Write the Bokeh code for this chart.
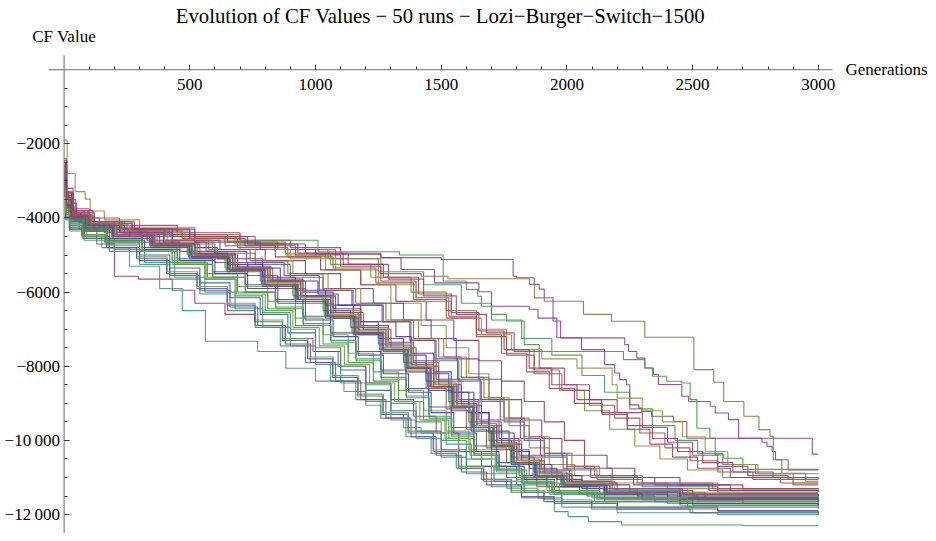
import colorsys
from bokeh.plotting import figure
from bokeh.models import Range1d, FixedTicker, Label
from bokeh.embed import file_html
from bokeh.resources import INLINE

title_text = "Evolution of CF Values \u2212 50 runs \u2212 Lozi\u2212Burger\u2212Switch\u22121500"
x_title = "Generations"
y_title = "CF Value"
x_ticks = [500, 1000, 1500, 2000, 2500, 3000]
x_tick_labels = ["500", "1000", "1500", "2000", "2500", "3000"]
y_ticks = [-12000, -10000, -8000, -6000, -4000, -2000]
y_tick_labels = ["\u221212\u2009000", "\u221210\u2009000", "\u22128000", "\u22126000", "\u22124000", "\u22122000"]

# each run: (generation at which the value starts, CF value)
run01 = [(1,-2850),(6,-3500),(22,-3900),(70,-4150),(180,-4380),(330,-4600),(520,-4800),(610,-5100),(790,-5350),(860,-5700),(1010,-6050),(1090,-6350),(1180,-6800),(1320,-7200),(1380,-7650),(1470,-8150),(1540,-8700),(1630,-9250),(1690,-9800),(1790,-10300),(1850,-10750),(1960,-11050),(2060,-11300),(2280,-11500),(2520,-11600),(3000,-11600)]
run02 = [(1,-2500),(5,-3300),(18,-3900),(60,-4300),(130,-4700),(200,-5570),(295,-5650),(430,-5950),(520,-6300),(640,-6600),(760,-6900),(880,-7250),(990,-7600),(1090,-8000),(1200,-8450),(1300,-8900),(1390,-9350),(1480,-9800),(1570,-10300),(1660,-10700),(1760,-11000),(1880,-11250),(2050,-11450),(2300,-11600),(2700,-11700),(3000,-11700)]
run03 = [(1,-1900),(12,-2800),(44,-3290),(84,-3490),(104,-3810),(160,-4050),(300,-4250),(520,-4450),(700,-4700),(880,-5000),(1040,-5400),(1180,-5800),(1300,-6300),(1420,-6900),(1520,-7500),(1610,-8200),(1690,-8900),(1770,-9600),(1850,-10200),(1930,-10650),(2030,-10950),(2180,-11150),(2400,-11300),(3000,-11300)]
run04 = [(1,-3100),(8,-3700),(30,-4000),(90,-4200),(220,-4350),(420,-4500),(650,-4650),(850,-4850),(1050,-5100),(1250,-5450),(1430,-5800),(1580,-6300),(1700,-6750),(1820,-7250),(1940,-7700),(2060,-8250),(2150,-8700),(2250,-9150),(2340,-9600),(2430,-10000),(2520,-10350),(2620,-10650),(2750,-10900),(3000,-10900)]
run05 = [(1,-3300),(7,-3900),(25,-4200),(80,-4450),(170,-4700),(300,-5000),(420,-5350),(540,-5750),(660,-6150),(780,-6600),(890,-7100),(1000,-7600),(1100,-8100),(1200,-8650),(1300,-9200),(1400,-9750),(1500,-10250),(1600,-10700),(1710,-11100),(1830,-11400),(1980,-11650),(2200,-11800),(2600,-11900),(3000,-11900)]
run06 = [(1,-2400),(9,-3200),(35,-3750),(100,-4000),(220,-4200),(450,-4400),(700,-4600),(900,-4800),(1100,-4950),(1260,-5070),(1500,-5120),(1786,-5570),(1800,-5610),(1870,-5790),(1890,-5920),(1910,-6150),(1945,-6780),(1975,-7235),(2230,-7415),(2245,-7600),(2278,-7780),(2310,-8045),(2344,-8220),(2364,-8490),(2457,-8810),(2484,-8950),(2570,-9080),(2590,-9260),(2643,-9440),(2683,-9940),(2776,-10050),(2796,-10160),(2816,-10300),(2830,-10520),(2880,-10800),(3000,-10800)]
run07 = [(1,-2600),(8,-3300),(30,-3800),(80,-4100),(200,-4300),(400,-4450),(650,-4650),(880,-4850),(1080,-5100),(1260,-5500),(1420,-5570),(1527,-5640),(1851,-5790),(1871,-6155),(1910,-6244),(2066,-6600),(2178,-6785),(2310,-7217),(2505,-8090),(2584,-8430),(2624,-8950),(2704,-9350),(2764,-9710),(2808,-9890),(2821,-10520),(2855,-10885),(2950,-11100),(3000,-11100)]
run08 = [(1,-2700),(12,-3500),(45,-3950),(120,-4200),(260,-4400),(520,-4550),(700,-4600),(1010,-4910),(1334,-5000),(1508,-5700),(1600,-5930),(1645,-6110),(1660,-6380),(1700,-6600),(1760,-6780),(1830,-7415),(1890,-7600),(2225,-7820),(2310,-8045),(2340,-8270),(2397,-8405),(2457,-8450),(2490,-8900),(2517,-9670),(2569,-9940),(2590,-10390),(2624,-10480),(2700,-10780),(3000,-10780)]
run09 = [(1,-2950),(10,-3700),(40,-4050),(120,-4300),(260,-4500),(430,-4700),(600,-4950),(760,-5250),(900,-5600),(1030,-5950),(1150,-6350),(1270,-6800),(1380,-7300),(1480,-7850),(1570,-8400),(1660,-8950),(1750,-9500),(1830,-10000),(1910,-10450),(2000,-10800),(2120,-11050),(2300,-11250),(2600,-11400),(3000,-11400)]
run10 = [(1,-3000),(10,-3600),(50,-4000),(140,-4250),(300,-4450),(520,-4650),(780,-4850),(1000,-4980),(1260,-5070),(1340,-5390),(1473,-5750),(1650,-5990),(1700,-6380),(1850,-6460),(1885,-6700),(1960,-7230),(2058,-7550),(2150,-7955),(2190,-8180),(2210,-8360),(2237,-8500),(2250,-9040),(2286,-9130),(2298,-9220),(2337,-9350),(2424,-9490),(2477,-9940),(2976,-10370),(3000,-10370)]
run11 = [(1,-2700),(5,-3400),(20,-3850),(65,-4150),(160,-4400),(310,-4650),(460,-4900),(600,-5200),(730,-5550),(850,-5900),(960,-6300),(1070,-6700),(1170,-7150),(1270,-7600),(1360,-8100),(1440,-8600),(1520,-9150),(1600,-9700),(1680,-10200),(1760,-10600),(1850,-10950),(1960,-11250),(2130,-11450),(2400,-11600),(3000,-11650)]
run12 = [(1,-2600),(10,-3400),(35,-3850),(100,-4100),(240,-4300),(450,-4500),(680,-4700),(880,-4950),(1060,-5250),(1220,-5600),(1380,-6000),(1520,-6500),(1640,-7000),(1760,-7550),(1870,-8100),(1970,-8650),(2070,-9200),(2170,-9700),(2270,-10150),(2370,-10500),(2480,-10800),(2620,-11000),(3000,-11050)]
run13 = [(1,-3400),(6,-4000),(25,-4300),(90,-4550),(200,-4850),(320,-5200),(440,-5600),(560,-6000),(680,-6450),(790,-6950),(900,-7450),(1000,-7950),(1100,-8450),(1200,-8950),(1300,-9450),(1400,-9950),(1500,-10450),(1600,-10900),(1700,-11250),(1820,-11550),(1980,-11800),(2200,-11950),(2600,-12000),(3000,-12000)]
run14 = [(1,-3050),(8,-3650),(28,-4000),(85,-4250),(200,-4450),(360,-4700),(520,-4950),(680,-5300),(820,-5650),(950,-6000),(1070,-6450),(1180,-6900),(1290,-7350),(1390,-7850),(1480,-8350),(1570,-8900),(1650,-9450),(1730,-9950),(1810,-10400),(1900,-10800),(2010,-11100),(2180,-11300),(2450,-11450),(3000,-11500)]
run15 = [(1,-2500),(7,-3300),(30,-3800),(95,-4100),(230,-4300),(430,-4500),(640,-4750),(840,-5050),(1020,-5400),(1180,-5800),(1320,-6250),(1440,-6750),(1550,-7300),(1650,-7850),(1740,-8400),(1830,-8950),(1910,-9500),(1990,-10000),(2070,-10400),(2160,-10750),(2270,-11000),(2450,-11200),(2700,-11300),(3000,-11300)]
run16 = [(1,-3200),(6,-3800),(24,-4150),(75,-4350),(170,-4600),(300,-4850),(430,-5150),(560,-5500),(690,-5850),(810,-6250),(920,-6700),(1030,-7150),(1130,-7650),(1230,-8150),(1330,-8650),(1430,-9200),(1520,-9750),(1610,-10250),(1700,-10700),(1800,-11050),(1920,-11350),(2100,-11550),(2400,-11700),(3000,-11750)]
run17 = [(1,-3300),(6,-3900),(20,-4250),(70,-4500),(150,-4800),(260,-5300),(380,-5900),(470,-6500),(562,-7325),(770,-7600),(882,-8055),(1000,-8400),(1113,-8680),(1200,-9050),(1260,-9300),(1350,-9650),(1420,-9800),(1520,-10100),(1620,-10500),(1720,-10850),(1820,-11150),(1950,-11450),(2150,-11650),(2500,-11750),(3000,-11800)]
run18 = [(1,-2750),(7,-3500),(26,-3950),(80,-4200),(190,-4450),(350,-4700),(500,-4950),(650,-5250),(790,-5600),(920,-5950),(1040,-6350),(1150,-6800),(1250,-7250),(1350,-7700),(1440,-8200),(1530,-8700),(1610,-9250),(1690,-9750),(1770,-10250),(1850,-10650),(1940,-10950),(2060,-11200),(2250,-11400),(2550,-11550),(3000,-11550)]
run19 = [(1,-2650),(9,-3450),(32,-3900),(110,-4150),(270,-4350),(500,-4550),(720,-4750),(920,-5000),(1100,-5300),(1260,-5700),(1400,-6150),(1530,-6650),(1640,-7150),(1740,-7650),(1840,-8150),(1930,-8600),(2030,-9000),(2140,-9300),(2240,-9700),(2330,-10100),(2420,-10450),(2520,-10750),(2650,-11000),(2850,-11150),(3000,-11150)]
run20 = [(1,-2900),(8,-3600),(35,-3950),(110,-4200),(260,-4400),(480,-4600),(700,-4850),(900,-5100),(1080,-5400),(1250,-5800),(1400,-6250),(1540,-6700),(1660,-7150),(1780,-7550),(1900,-7800),(2040,-8050),(2180,-8500),(2200,-8860),(2300,-9200),(2380,-9500),(2460,-9900),(2550,-10300),(2640,-10650),(2760,-10900),(2900,-11150),(3000,-11150)]
run21 = [(1,-3500),(6,-4050),(22,-4350),(80,-4600),(180,-4900),(300,-5250),(420,-5650),(540,-6050),(650,-6500),(760,-6950),(860,-7450),(960,-7900),(1060,-8400),(1160,-8900),(1260,-9400),(1360,-9900),(1460,-10350),(1560,-10750),(1660,-11050),(1760,-11290),(1885,-11560),(1950,-11920),(2005,-12055),(2085,-12190),(2218,-12280),(2700,-12300),(3000,-12300)]
run22 = [(1,-3150),(7,-3750),(25,-4100),(75,-4350),(170,-4550),(310,-4800),(450,-5100),(590,-5450),(720,-5800),(840,-6200),(950,-6650),(1060,-7100),(1160,-7600),(1260,-8100),(1360,-8600),(1450,-9100),(1540,-9650),(1630,-10150),(1720,-10600),(1810,-10950),(1920,-11250),(2080,-11500),(2350,-11650),(3000,-11700)]
run23 = [(1,-2550),(10,-3350),(38,-3850),(120,-4100),(280,-4300),(520,-4500),(760,-4700),(960,-4950),(1130,-5250),(1290,-5650),(1430,-6100),(1560,-6600),(1680,-7100),(1790,-7600),(1890,-8050),(1990,-8500),(2090,-8900),(2200,-9250),(2300,-9650),(2400,-10050),(2500,-10400),(2600,-10700),(2720,-10950),(2880,-11050),(3000,-11050)]
run24 = [(1,-2800),(9,-3550),(30,-3950),(95,-4200),(210,-4450),(370,-4700),(530,-5000),(680,-5350),(820,-5700),(950,-6100),(1070,-6500),(1180,-6950),(1290,-7400),(1390,-7900),(1490,-8400),(1580,-8950),(1660,-9500),(1740,-10000),(1820,-10450),(1910,-10800),(2020,-11100),(2190,-11300),(2450,-11450),(3000,-11450)]
run25 = [(1,-3250),(6,-3850),(22,-4200),(70,-4450),(160,-4650),(300,-4900),(440,-5200),(570,-5600),(690,-6000),(810,-6450),(920,-6900),(1030,-7400),(1130,-7900),(1230,-8400),(1330,-8950),(1430,-9450),(1530,-9950),(1630,-10400),(1730,-10800),(1840,-11150),(1970,-11400),(2150,-11600),(2500,-11750),(3000,-11750)]
run26 = [(1,-2950),(8,-3650),(27,-4000),(85,-4250),(190,-4500),(340,-4750),(490,-5000),(640,-5350),(780,-5700),(910,-6100),(1030,-6500),(1140,-6950),(1250,-7400),(1350,-7900),(1440,-8400),(1530,-8950),(1610,-9500),(1690,-10000),(1780,-10450),(1870,-10850),(1980,-11150),(2150,-11350),(2400,-11500),(3000,-11550)]
run27 = [(1,-3350),(6,-3950),(24,-4250),(80,-4500),(180,-4800),(300,-5150),(420,-5550),(540,-5950),(660,-6400),(770,-6900),(880,-7400),(980,-7900),(1080,-8400),(1180,-8900),(1280,-9400),(1380,-9900),(1480,-10400),(1580,-10850),(1680,-11200),(1819,-11515),(1950,-11700),(2200,-11850),(2600,-11900),(3000,-11950)]
run28 = [(1,-2700),(9,-3450),(33,-3900),(105,-4150),(250,-4350),(470,-4550),(690,-4800),(890,-5050),(1070,-5350),(1240,-5750),(1390,-6200),(1520,-6700),(1640,-7200),(1760,-7700),(1870,-8200),(1980,-8650),(2090,-9050),(2190,-9400),(2290,-9800),(2390,-10200),(2490,-10550),(2600,-10850),(2740,-11050),(2900,-11200),(3000,-11200)]
run29 = [(1,-3000),(7,-3700),(26,-4050),(85,-4300),(200,-4500),(360,-4750),(520,-5050),(670,-5400),(810,-5800),(940,-6200),(1060,-6650),(1170,-7100),(1280,-7550),(1380,-8050),(1470,-8550),(1560,-9100),(1640,-9650),(1720,-10150),(1800,-10600),(1890,-10950),(2000,-11200),(2170,-11400),(2450,-11550),(3000,-11600)]
run30 = [(1,-3100),(7,-3750),(24,-4100),(75,-4350),(170,-4600),(310,-4900),(450,-5250),(590,-5600),(720,-6000),(840,-6400),(950,-6850),(1060,-7300),(1160,-7800),(1260,-8300),(1360,-8800),(1450,-9350),(1540,-9850),(1630,-10350),(1720,-10750),(1820,-11100),(1940,-11400),(2120,-11600),(2450,-11750),(3000,-11800)]
run31 = [(1,-2800),(9,-3550),(32,-3950),(100,-4200),(240,-4400),(430,-4600),(620,-4850),(800,-5150),(960,-5500),(1100,-5900),(1230,-6300),(1350,-6750),(1460,-7250),(1560,-7800),(1650,-8350),(1740,-8900),(1820,-9450),(1900,-9950),(1980,-10400),(2070,-10750),(2180,-11000),(2350,-11200),(2650,-11350),(3000,-11350)]
run32 = [(1,-2600),(8,-3400),(28,-3900),(90,-4200),(210,-4450),(380,-4700),(540,-5000),(690,-5350),(830,-5700),(960,-6100),(1080,-6550),(1190,-7000),(1300,-7500),(1400,-8000),(1490,-8500),(1580,-9050),(1660,-9600),(1740,-10100),(1820,-10550),(1910,-10900),(2020,-11150),(2200,-11350),(2500,-11500),(3000,-11500)]
run33 = [(1,-3300),(6,-3900),(23,-4250),(75,-4500),(170,-4750),(290,-5050),(410,-5450),(530,-5850),(650,-6300),(760,-6750),(870,-7250),(970,-7750),(1070,-8250),(1170,-8750),(1270,-9250),(1370,-9750),(1470,-10250),(1570,-10700),(1670,-11050),(1780,-11350),(1910,-11600),(2100,-11800),(2500,-11950),(3000,-12000)]
run34 = [(1,-2900),(8,-3600),(27,-4000),(85,-4250),(195,-4500),(350,-4750),(510,-5050),(660,-5400),(800,-5750),(930,-6150),(1050,-6600),(1160,-7050),(1270,-7500),(1370,-8000),(1460,-8500),(1550,-9050),(1630,-9600),(1710,-10100),(1790,-10550),(1880,-10900),(1990,-11150),(2160,-11350),(2450,-11500),(3000,-11550)]
run35 = [(1,-3050),(7,-3700),(25,-4100),(78,-4350),(180,-4600),(320,-4850),(460,-5150),(600,-5500),(730,-5900),(850,-6300),(960,-6750),(1070,-7200),(1170,-7700),(1270,-8200),(1370,-8700),(1460,-9250),(1550,-9800),(1640,-10300),(1730,-10700),(1830,-11050),(1950,-11350),(2130,-11550),(2450,-11700),(3000,-11750)]
run36 = [(1,-2450),(10,-3300),(36,-3800),(115,-4100),(270,-4300),(500,-4500),(730,-4700),(930,-4950),(1110,-5250),(1270,-5600),(1410,-6050),(1540,-6550),(1650,-7050),(1750,-7550),(1850,-8050),(1940,-8500),(2040,-8900),(2138,-9250),(2240,-9600),(2340,-9950),(2440,-10300),(2540,-10600),(2660,-10850),(2820,-11000),(3000,-11000)]
run37 = [(1,-2850),(8,-3550),(29,-3950),(92,-4200),(205,-4450),(365,-4700),(525,-5000),(675,-5350),(815,-5750),(945,-6150),(1065,-6600),(1175,-7050),(1285,-7500),(1385,-8000),(1475,-8500),(1565,-9050),(1645,-9600),(1725,-10100),(1805,-10550),(1895,-10900),(2005,-11150),(2175,-11300),(2480,-11400),(3000,-11400)]
run38 = [(1,-3250),(6,-3850),(22,-4200),(72,-4450),(165,-4650),(300,-4900),(430,-5250),(560,-5650),(680,-6100),(790,-6550),(900,-7000),(1000,-7500),(1100,-8000),(1200,-8500),(1300,-9000),(1400,-9500),(1500,-10000),(1600,-10500),(1700,-10900),(1800,-11200),(1930,-11450),(2110,-11650),(2480,-11800),(3000,-11850)]
run39 = [(1,-2950),(8,-3650),(27,-4050),(85,-4300),(195,-4550),(345,-4800),(500,-5100),(650,-5450),(790,-5850),(920,-6250),(1040,-6700),(1150,-7150),(1260,-7650),(1360,-8150),(1450,-8650),(1540,-9200),(1620,-9750),(1700,-10250),(1780,-10650),(1870,-11000),(1980,-11250),(2150,-11450),(2450,-11600),(3000,-11650)]
run40 = [(1,-2750),(8,-3500),(28,-3950),(88,-4200),(200,-4450),(360,-4700),(520,-5000),(670,-5350),(810,-5700),(940,-6100),(1060,-6550),(1170,-7000),(1280,-7450),(1380,-7950),(1470,-8450),(1560,-9000),(1640,-9550),(1720,-10050),(1800,-10500),(1890,-10850),(2000,-11100),(2170,-11300),(2460,-11450),(3000,-11500)]
run41 = [(1,-2700),(9,-3500),(31,-3900),(98,-4150),(230,-4400),(410,-4600),(590,-4850),(760,-5150),(910,-5500),(1050,-5900),(1180,-6300),(1300,-6750),(1410,-7250),(1510,-7750),(1600,-8300),(1690,-8850),(1770,-9400),(1850,-9900),(1930,-10350),(2020,-10700),(2130,-10950),(2300,-11150),(2600,-11300),(3000,-11350)]
run42 = [(1,-3000),(7,-3700),(26,-4050),(82,-4300),(190,-4500),(340,-4750),(495,-5050),(645,-5400),(785,-5800),(915,-6200),(1035,-6650),(1145,-7100),(1255,-7550),(1355,-8050),(1445,-8550),(1535,-9100),(1615,-9650),(1695,-10150),(1775,-10600),(1865,-10950),(1975,-11200),(2145,-11400),(2440,-11550),(3000,-11600)]
run43 = [(1,-3400),(6,-4000),(23,-4300),(74,-4550),(168,-4800),(288,-5100),(408,-5500),(528,-5900),(648,-6350),(758,-6800),(868,-7300),(968,-7800),(1068,-8300),(1168,-8800),(1268,-9300),(1368,-9800),(1468,-10300),(1568,-10750),(1668,-11100),(1778,-11400),(1908,-11650),(2098,-11850),(2490,-11950),(3000,-12000)]
run44 = [(1,-2900),(8,-3600),(27,-4000),(86,-4250),(198,-4500),(352,-4750),(508,-5050),(658,-5400),(798,-5800),(928,-6200),(1048,-6650),(1158,-7100),(1268,-7550),(1368,-8050),(1458,-8550),(1548,-9100),(1628,-9650),(1708,-10150),(1788,-10600),(1878,-10950),(1988,-11200),(2158,-11400),(2450,-11550),(3000,-11600)]
run45 = [(1,-2650),(8,-3450),(30,-3900),(96,-4150),(225,-4400),(400,-4600),(575,-4850),(740,-5150),(890,-5500),(1030,-5900),(1160,-6300),(1280,-6750),(1390,-7250),(1490,-7750),(1580,-8300),(1670,-8850),(1750,-9400),(1830,-9900),(1910,-10350),(2000,-10700),(2110,-10950),(2280,-11150),(2580,-11300),(3000,-11300)]
run46 = [(1,-3100),(7,-3750),(24,-4100),(76,-4350),(172,-4600),(312,-4900),(452,-5250),(592,-5600),(722,-6000),(842,-6450),(952,-6900),(1062,-7350),(1162,-7850),(1262,-8350),(1362,-8850),(1452,-9400),(1542,-9900),(1632,-10400),(1722,-10800),(1822,-11150),(1942,-11400),(2122,-11550),(2450,-11650),(3000,-11700)]
run47 = [(1,-2850),(8,-3600),(28,-4000),(88,-4250),(200,-4500),(356,-4750),(512,-5050),(662,-5400),(802,-5800),(932,-6200),(1052,-6650),(1162,-7100),(1272,-7550),(1372,-8050),(1462,-8550),(1552,-9100),(1632,-9650),(1712,-10150),(1792,-10600),(1882,-10950),(1992,-11200),(2162,-11400),(2450,-11550),(3000,-11550)]
run48 = [(1,-2750),(9,-3500),(30,-3950),(95,-4200),(220,-4400),(395,-4650),(565,-4900),(725,-5200),(875,-5550),(1015,-5950),(1145,-6350),(1265,-6800),(1375,-7300),(1475,-7800),(1565,-8350),(1655,-8900),(1735,-9450),(1815,-9950),(1895,-10400),(1985,-10750),(2095,-11000),(2265,-11200),(2565,-11350),(3000,-11400)]
run49 = [(1,-2950),(8,-3650),(27,-4000),(85,-4250),(195,-4500),(350,-4750),(505,-5050),(655,-5400),(795,-5800),(925,-6200),(1045,-6650),(1155,-7100),(1265,-7550),(1365,-8050),(1455,-8550),(1545,-9100),(1625,-9650),(1705,-10150),(1785,-10600),(1875,-10950),(1985,-11200),(2155,-11400),(2450,-11550),(3000,-11600)]
run50 = [(1,-3200),(6,-3850),(23,-4200),(74,-4450),(168,-4650),(310,-4900),(440,-5250),(565,-5650),(685,-6050),(800,-6500),(910,-6950),(1015,-7450),(1115,-7950),(1215,-8450),(1315,-8950),(1415,-9450),(1515,-9950),(1615,-10400),(1715,-10800),(1820,-11100),(1950,-11350),(2130,-11550),(2480,-11650),(3000,-11650)]

runs = [run01, run02, run03, run04, run05, run06, run07, run08, run09, run10,
        run11, run12, run13, run14, run15, run16, run17, run18, run19, run20,
        run21, run22, run23, run24, run25, run26, run27, run28, run29, run30,
        run31, run32, run33, run34, run35, run36, run37, run38, run39, run40,
        run41, run42, run43, run44, run45, run46, run47, run48, run49, run50]

SERIF = "Liberation Serif"

# the frame covers the whole canvas so that nothing is clipped
p = figure(width=928, height=533, output_backend="svg", toolbar_location=None,
           x_range=Range1d(-253.0, 3438.4), y_range=Range1d(-12511, 1867),
           min_border_left=0, min_border_right=0, min_border_top=0, min_border_bottom=0)
p.xgrid.visible = False
p.ygrid.visible = False
p.outline_line_color = None
p.background_fill_color = "white"
p.border_fill_color = "white"

for i, run in enumerate(runs):
    hue = (0.67 + 0.236068 * i) % 1.0
    r, g, b = colorsys.hsv_to_rgb(hue, 0.6, 0.6)
    color = "#%02x%02x%02x" % (int(r * 255 + 0.5), int(g * 255 + 0.5), int(b * 255 + 0.5))
    gens = [pt[0] for pt in run]
    vals = [pt[1] for pt in run]
    p.step(gens, vals, mode="after", line_color=color, line_width=1.1, line_alpha=0.9)

# Mathematica-style axis lines crossing at the origin
p.segment(x0=[-62], y0=[0], x1=[3056], y1=[0], line_color="#6b6b6b", line_width=1)
p.segment(x0=[0], y0=[383], x1=[0], y1=[-12511], line_color="#6b6b6b", line_width=1)

xa = p.xaxis[0]
xa.fixed_location = 0
xa.ticker = FixedTicker(ticks=x_ticks, minor_ticks=list(range(100, 3001, 100)))
xa.major_label_overrides = {t: s for t, s in zip(x_ticks, x_tick_labels)}
ya = p.yaxis[0]
ya.fixed_location = 0
ya.ticker = FixedTicker(ticks=y_ticks, minor_ticks=list(range(-12500, 0, 500)))
ya.major_label_overrides = {t: s for t, s in zip(y_ticks, y_tick_labels)}
for ax in (xa, ya):
    ax.axis_line_color = None
    ax.major_tick_line_color = "#333333"
    ax.minor_tick_line_color = "#333333"
    ax.major_tick_in = 5
    ax.major_tick_out = 0
    ax.minor_tick_in = 3
    ax.minor_tick_out = 0
    ax.major_label_text_font = SERIF
    ax.major_label_text_font_size = "17px"
    ax.major_label_text_color = "black"
xa.major_label_standoff = 9
ya.major_label_standoff = 4

p.add_layout(Label(x=1497, y=1440, text=title_text, text_align="center", text_baseline="middle",
                   text_font=SERIF, text_font_size="20.7px", text_color="black"))
p.add_layout(Label(x=0, y=896, text=y_title, text_align="center", text_baseline="middle",
                   text_font=SERIF, text_font_size="17px", text_color="black"))
p.add_layout(Label(x=3108, y=0, text=x_title, text_align="left", text_baseline="middle",
                   text_font=SERIF, text_font_size="17px", text_color="black"))

open("out.html", "w").write(file_html(p, INLINE))
